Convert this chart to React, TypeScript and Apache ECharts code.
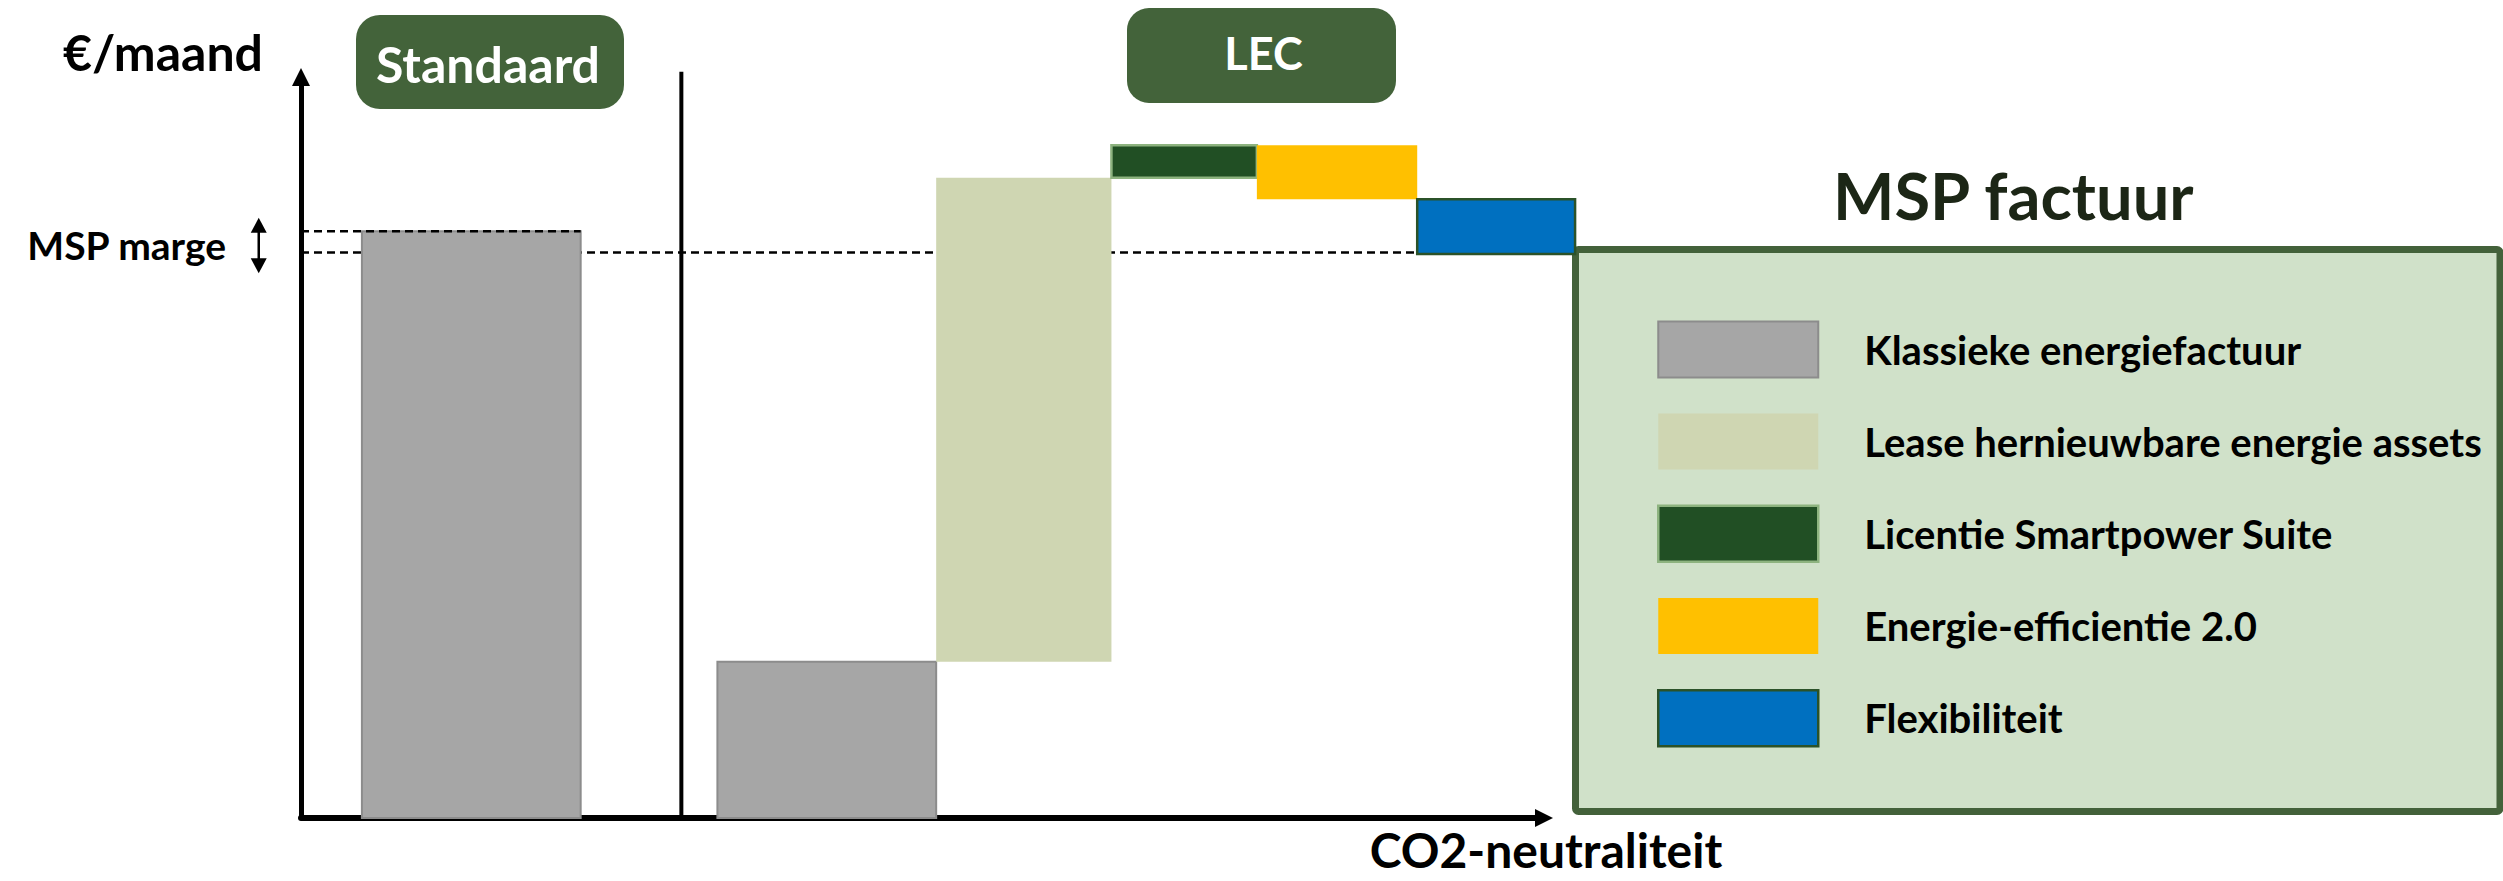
import { useEffect, useRef } from "react";
import * as echarts from "echarts";

// ---- data (arbitrary €/maand units, x = CO2-neutraliteit units) ----
const legendNames = [
  "Klassieke energiefactuur",
  "Lease hernieuwbare energie assets",
  "Licentie Smartpower Suite",
  "Energie-efficientie 2.0",
  "Flexibiliteit",
];
const groupLabels = ["Standaard", "LEC"];
// waterfall steps (in drawing order)
const stepSeries = [0, 0, 1, 2, 3, 4]; // index into legendNames
const stepDelta = [79.2, 21.1, 65.3, 4.4, -7.3, -7.4];
const stepRestart = [true, true, false, false, false, false];
const stepXFrom = [4.9, 33.5, 51.1, 65.2, 76.9, 89.8];
const stepXTo = [22.5, 51.1, 65.2, 76.9, 89.8, 102.5];
// MSP marge reference levels
const margeLevels = [79.2, 76.3];
const margeLineEnd = [22.5, 89.8];
const margeArrowX = -3.4;
const margeArrowTips = [81.0, 73.5];
// separator between Standaard and LEC
const separatorX = 30.6;
const separatorTop = 100.7;

// ---- styles ----
const FONT = "Lato";
const fills = ["#A6A6A6", "#CFD6B2", "#214F24", "#FFC000", "#0070C0"];
const strokes = ["#8C8C8C", null, "#8DB37F", null, "#2B5229"];
const strokeWidths = [2, 0, 2.5, 0, 2.5];
const headerColor = "#43633A";

export default function App() {
  const ref = useRef<HTMLDivElement>(null);
  useEffect(() => {
    if (!ref.current) return;
    const chart = echarts.init(ref.current, null, { renderer: "svg" });

    // build waterfall rects
    const rects: number[][][] = legendNames.map(() => []);
    let running = 0;
    stepDelta.forEach((d, i) => {
      if (stepRestart[i]) running = 0;
      const y0 = running;
      const y1 = running + d;
      running = y1;
      rects[stepSeries[i]].push([stepXFrom[i], stepXTo[i], Math.min(y0, y1), Math.max(y0, y1)]);
    });

    const customSeries = legendNames.map((name, si) => ({
      type: "custom",
      name,
      z: 3,
      clip: false,
      itemStyle: { color: fills[si] },
      encode: { x: [0, 1], y: [2, 3] },
      data: rects[si],
      renderItem: (_p: any, api: any) => {
        const tl = api.coord([api.value(0), api.value(3)]);
        const br = api.coord([api.value(1), api.value(2)]);
        return {
          type: "rect",
          shape: { x: tl[0], y: tl[1], width: br[0] - tl[0], height: br[1] - tl[1] },
          style: {
            fill: fills[si],
            stroke: strokes[si] || undefined,
            lineWidth: strokeWidths[si],
          },
        };
      },
    }));

    const option: any = {
      animation: false,
      backgroundColor: "#ffffff",
      grid: { left: 301, top: 77, right: 959, bottom: 63, containLabel: false, outerBoundsMode: "none" },
      xAxis: {
        type: "value",
        min: 0,
        max: 100,
        name: "CO2-neutraliteit",
        nameLocation: "end",
        nameGap: 2,
        nameTextStyle: {
          fontFamily: FONT,
          fontWeight: "bold",
          fontSize: 48,
          color: "#000",
          align: "center",
          verticalAlign: "top",
          lineHeight: 62,
        },
        axisLine: {
          show: true,
          symbol: ["none", "triangle"],
          symbolSize: [18, 18],
          lineStyle: { color: "#000", width: 6 },
        },
        axisTick: { show: false },
        axisLabel: { show: false },
        splitLine: { show: false },
      },
      yAxis: {
        type: "value",
        min: 0,
        max: 100,
        name: "€/maand",
        nameLocation: "end",
        nameGap: 25,
        nameTextStyle: {
          fontFamily: FONT,
          fontWeight: "bold",
          fontSize: 50,
          color: "#000",
          align: "right",
          verticalAlign: "middle",
          padding: [0, 38, 0, 0],
        },
        axisLine: {
          show: true,
          symbol: ["none", "triangle"],
          symbolSize: [18, 18],
          lineStyle: { color: "#000", width: 5 },
        },
        axisTick: { show: false },
        axisLabel: { show: false },
        splitLine: { show: false },
      },
      title: {
        text: "MSP factuur",
        left: 1833,
        top: 162,
        padding: 0,
        textStyle: { fontFamily: FONT, fontWeight: "bold", fontSize: 65, color: "#1C2616" },
      },
      legend: {
        orient: "vertical",
        left: 1657,
        top: 320.5,
        padding: 0,
        itemWidth: 160,
        itemHeight: 56,
        itemGap: 35,
        icon: "rect",
        selectedMode: false,
        data: legendNames.map((name, i) => ({
          name,
          itemStyle: {
            color: fills[i],
            borderColor: strokes[i] || fills[i],
            borderWidth: strokeWidths[i],
          },
        })),
        textStyle: {
          fontFamily: FONT,
          fontWeight: "bold",
          fontSize: 40,
          color: "#000",
          padding: [0, 0, 0, 41],
        },
      },
      graphic: [
        {
          type: "rect",
          z: 0,
          shape: { x: 1575.5, y: 249.5, width: 924.5, height: 562, r: 3 },
          style: { fill: "#D0E1C9", stroke: "#43613A", lineWidth: 7 },
        },
        {
          type: "rect",
          shape: { x: 356, y: 15, width: 268, height: 94, r: 24 },
          style: { fill: headerColor },
        },
        {
          type: "text",
          style: {
            text: groupLabels[0],
            x: 488,
            y: 64,
            align: "center",
            verticalAlign: "middle",
            fill: "#ffffff",
            fontFamily: FONT,
            fontWeight: "bold",
            fontSize: 50,
          },
        },
        {
          type: "rect",
          shape: { x: 1127, y: 8, width: 269, height: 95, r: 22 },
          style: { fill: headerColor },
        },
        {
          type: "text",
          style: {
            text: groupLabels[1],
            x: 1263.5,
            y: 53,
            align: "center",
            verticalAlign: "middle",
            fill: "#ffffff",
            fontFamily: FONT,
            fontWeight: "bold",
            fontSize: 45,
          },
        },
        {
          type: "text",
          style: {
            text: "MSP marge",
            x: 226,
            y: 245,
            align: "right",
            verticalAlign: "middle",
            fill: "#000",
            fontFamily: FONT,
            fontWeight: "bold",
            fontSize: 39,
          },
        },
      ],
      series: [
        // lower marge dashed line (behind bars)
        {
          type: "line",
          name: "marge-onder",
          z: 1,
          symbol: "none",
          clip: false,
          silent: true,
          lineStyle: { color: "#000", width: 2.5, type: [8, 5] },
          data: [
            [0, margeLevels[1]],
            [margeLineEnd[1], margeLevels[1]],
          ],
        },
        ...customSeries,
        // upper marge dashed line (over bar top)
        {
          type: "line",
          name: "marge-boven",
          z: 5,
          symbol: "none",
          clip: false,
          silent: true,
          lineStyle: { color: "#000", width: 2.5, type: [8, 5] },
          data: [
            [0, margeLevels[0]],
            [margeLineEnd[0], margeLevels[0]],
          ],
        },
        // separator
        {
          type: "line",
          name: "scheiding",
          z: 5,
          symbol: "none",
          clip: false,
          silent: true,
          lineStyle: { color: "#000", width: 4 },
          data: [
            [separatorX, 0],
            [separatorX, separatorTop],
          ],
        },
        // MSP marge double arrow
        {
          type: "custom",
          name: "marge-pijl",
          z: 5,
          clip: false,
          silent: true,
          encode: { x: 0, y: [1, 2] },
          data: [[margeArrowX, margeArrowTips[0], margeArrowTips[1]]],
          renderItem: (_p: any, api: any) => {
            const t = api.coord([api.value(0), api.value(1)]);
            const b = api.coord([api.value(0), api.value(2)]);
            const hw = 8;
            const hl = 15;
            return {
              type: "group",
              children: [
                {
                  type: "line",
                  shape: { x1: t[0], y1: t[1] + hl - 1, x2: b[0], y2: b[1] - hl + 1 },
                  style: { stroke: "#000", lineWidth: 2.5 },
                },
                {
                  type: "polygon",
                  shape: { points: [[t[0], t[1]], [t[0] - hw, t[1] + hl], [t[0] + hw, t[1] + hl]] },
                  style: { fill: "#000" },
                },
                {
                  type: "polygon",
                  shape: { points: [[b[0], b[1]], [b[0] - hw, b[1] - hl], [b[0] + hw, b[1] - hl]] },
                  style: { fill: "#000" },
                },
              ],
            };
          },
        },
      ],
    };
    chart.setOption(option);
    return () => chart.dispose();
  }, []);
  return (
    <div
      ref={ref}
      style={{ position: "fixed", left: 0, top: 0, width: 2503, height: 881, background: "#fff" }}
    />
  );
}
